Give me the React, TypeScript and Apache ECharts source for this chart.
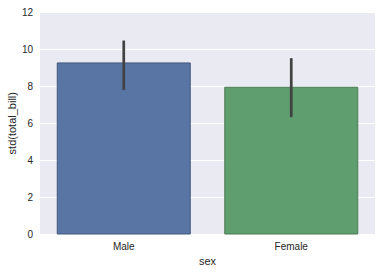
import React, { useEffect, useRef } from "react";
import * as echarts from "echarts";

const categories = ["Male", "Female"];
const values = [9.28, 7.97];
const ciLow = [7.8, 6.33];
const ciHigh = [10.46, 9.51];
const barColors = ["#5875a4", "#5f9e6e"];
const borderColors = ["#44597e", "#4b7b57"];

export default function App() {
  const ref = useRef<HTMLDivElement>(null);
  useEffect(() => {
    const chart = echarts.init(ref.current!, null, { renderer: "svg" });
    const font = "'Liberation Sans', Arial, sans-serif";
    chart.setOption({
      animation: false,
      grid: {
        left: 40, top: 12, right: 7, bottom: 38.5,
        backgroundColor: "#eaeaf2", show: true, borderWidth: 0,
        containLabel: false, outerBoundsMode: "none",
      },
      xAxis: {
        type: "category",
        data: categories,
        name: "sex",
        nameLocation: "middle",
        nameGap: 21,
        nameMoveOverlap: false,
        nameTextStyle: { fontFamily: font, fontSize: 11, color: "#262626" },
        axisLine: { show: false },
        axisTick: { show: false },
        axisLabel: { fontFamily: font, fontSize: 10, color: "#262626", margin: 7 },
        splitLine: { show: false },
      },
      yAxis: {
        type: "value",
        min: 0,
        max: 12,
        interval: 2,
        name: "std(total_bill)",
        nameLocation: "middle",
        nameGap: 23,
        nameMoveOverlap: false,
        nameTextStyle: { fontFamily: font, fontSize: 11, color: "#262626" },
        axisLine: { show: false },
        axisTick: { show: false },
        axisLabel: { fontFamily: font, fontSize: 10, color: "#262626", margin: 7 },
        splitLine: { show: true, lineStyle: { color: "#ffffff", width: 1 } },
      },
      series: [
        {
          type: "bar",
          barCategoryGap: "20%",
          data: values.map((v, i) => ({
            value: v,
            itemStyle: { color: barColors[i], borderColor: borderColors[i], borderWidth: 1 },
          })),
          z: 2,
        },
        {
          type: "custom",
          z: 3,
          data: categories.map((c, i) => [i, ciLow[i], ciHigh[i]]),
          renderItem: (params: any, api: any) => {
            const p1 = api.coord([api.value(0), api.value(1)]);
            const p2 = api.coord([api.value(0), api.value(2)]);
            return {
              type: "line",
              shape: { x1: p1[0], y1: p1[1], x2: p2[0], y2: p2[1] },
              style: { stroke: "#424242", lineWidth: 2.7 },
            };
          },
        },
      ],
    });
    return () => chart.dispose();
  }, []);
  return <div ref={ref} style={{ width: 382, height: 273, position: "absolute", left: 0, top: 0 }} />;
}
